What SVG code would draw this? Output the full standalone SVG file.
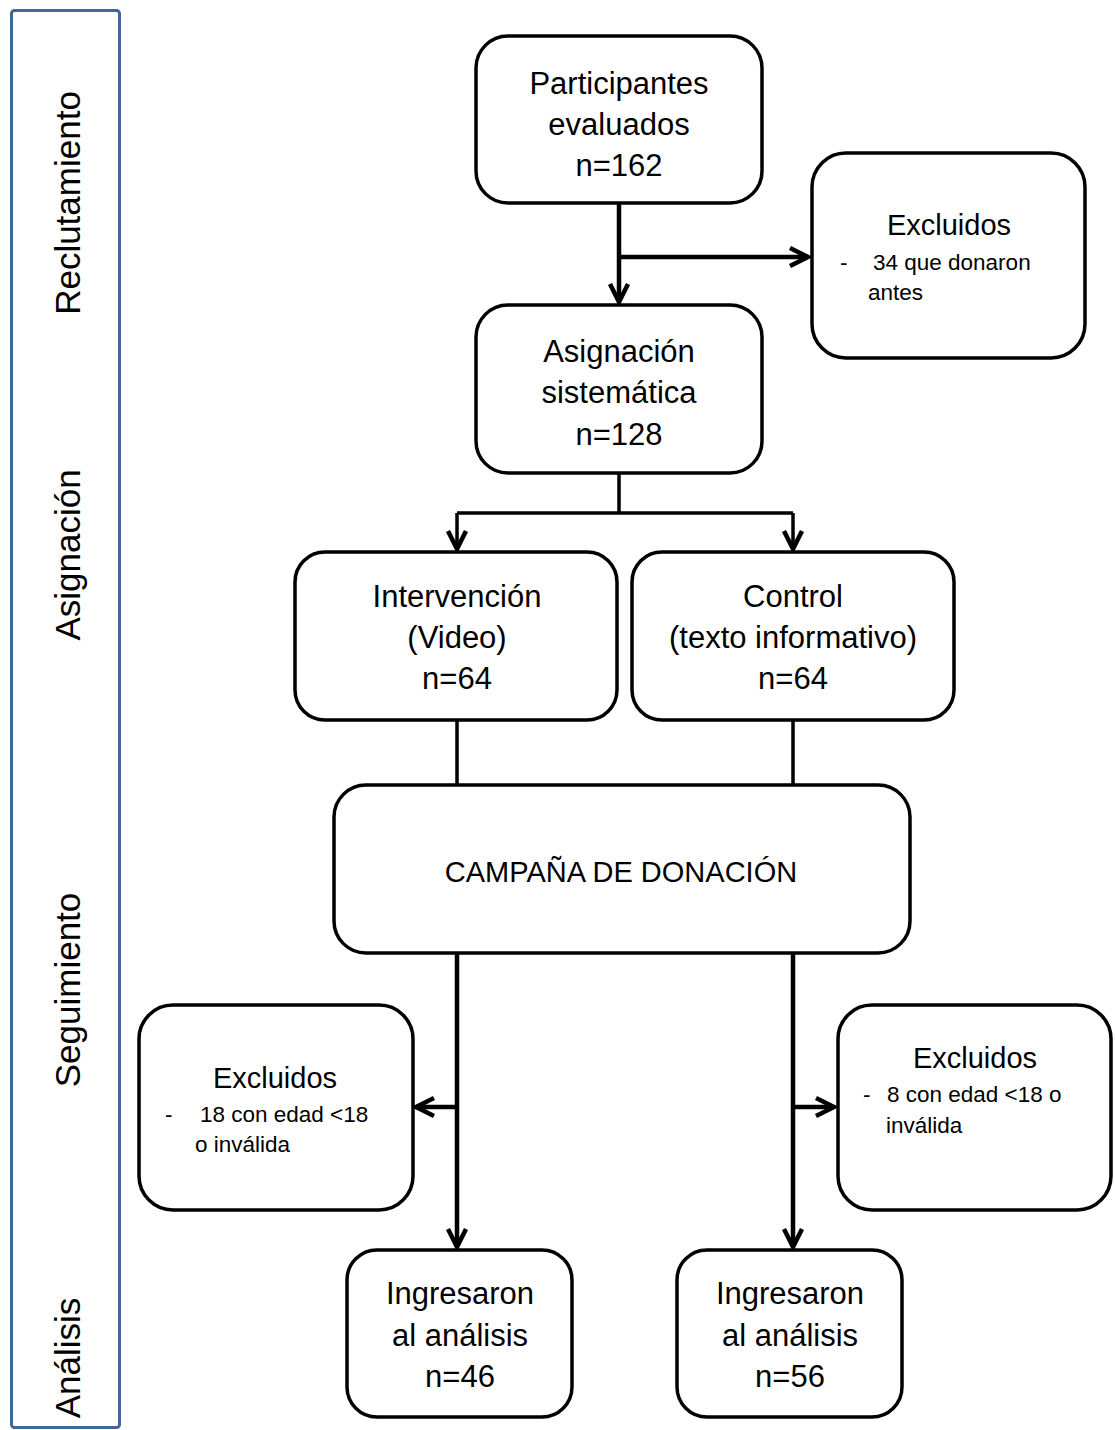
<svg xmlns="http://www.w3.org/2000/svg" width="1115" height="1430" viewBox="0 0 1115 1430">
<style>
.box{fill:#fff;stroke:#000;stroke-width:3.5}
.t{font-family:"Liberation Sans",Arial,sans-serif;font-size:31px;fill:#000;text-anchor:middle}
.h{font-family:"Liberation Sans",Arial,sans-serif;font-size:29px;fill:#000;text-anchor:middle}
.s{font-family:"Liberation Sans",Arial,sans-serif;font-size:22.5px;fill:#000}
.v{font-family:"Liberation Sans",Arial,sans-serif;font-size:35px;fill:#000;text-anchor:middle}
.c{fill:none;stroke:#000;stroke-width:4.5}
.c2{fill:none;stroke:#000;stroke-width:3.5}
</style>
<defs>
<marker id="arr" markerUnits="userSpaceOnUse" viewBox="-22 -12 26 24" refX="0" refY="0" markerWidth="26" markerHeight="24" orient="auto">
<path d="M-18,-9 L0,0 L-18,9" fill="none" stroke="#000" stroke-width="4.5" stroke-linejoin="miter"/>
</marker>
</defs>
<g id="lanes">
<rect x="11.5" y="10.5" width="108" height="1417" rx="3" fill="#fff" stroke="#41679B" stroke-width="3"/>
<text class="v" transform="translate(80,203) rotate(-90)">Reclutamiento</text>
<text class="v" transform="translate(80,555) rotate(-90)">Asignación</text>
<text class="v" transform="translate(80,990) rotate(-90)">Seguimiento</text>
<text class="v" transform="translate(80,1358) rotate(-90)">Análisis</text>
</g>
<g id="connectors">
<path class="c" d="M619,203 V302" marker-end="url(#arr)"/>
<path class="c" d="M619,257 H808" marker-end="url(#arr)"/>
<path class="c2" d="M619,473 V513 M457,513 H793"/>
<path class="c2" d="M457,513 V549" marker-end="url(#arr)"/>
<path class="c2" d="M793,513 V549" marker-end="url(#arr)"/>
<path class="c2" d="M457,720 V785 M793,720 V785"/>
<path class="c" d="M457,953 V1247" marker-end="url(#arr)"/>
<path class="c" d="M457,1107 H416" marker-end="url(#arr)"/>
<path class="c" d="M793,953 V1247" marker-end="url(#arr)"/>
<path class="c" d="M793,1107 H834" marker-end="url(#arr)"/>
</g>
<g id="n-participantes">
<rect class="box" x="476" y="36" width="286" height="167" rx="32"/>
<text class="t" x="619" y="94">Participantes</text>
<text class="t" x="619" y="135">evaluados</text>
<text class="t" x="619" y="176">n=162</text>
</g>
<g id="n-excluidos1">
<rect class="box" x="812" y="153" width="273" height="205" rx="34"/>
<text class="h" x="949" y="235">Excluidos</text>
<text class="s" x="840" y="270">-</text>
<text class="s" x="873" y="270">34 que donaron</text>
<text class="s" x="868" y="300">antes</text>
</g>
<g id="n-asignacion">
<rect class="box" x="476" y="305" width="286" height="168" rx="32"/>
<text class="t" x="619" y="362">Asignación</text>
<text class="t" x="619" y="403">sistemática</text>
<text class="t" x="619" y="445">n=128</text>
</g>
<g id="n-intervencion">
<rect class="box" x="295" y="552" width="322" height="168" rx="30"/>
<text class="t" x="457" y="607">Intervención</text>
<text class="t" x="457" y="648">(Video)</text>
<text class="t" x="457" y="689">n=64</text>
</g>
<g id="n-control">
<rect class="box" x="632" y="552" width="322" height="168" rx="30"/>
<text class="t" x="793" y="607">Control</text>
<text class="t" x="793" y="648">(texto informativo)</text>
<text class="t" x="793" y="689">n=64</text>
</g>
<g id="n-campana">
<rect class="box" x="334" y="785" width="576" height="168" rx="32"/>
<text class="t" x="621" y="882" style="font-size:29px">CAMPAÑA DE DONACIÓN</text>
</g>
<g id="n-excluidos2">
<rect class="box" x="139" y="1005" width="274" height="205" rx="34"/>
<text class="h" x="275" y="1088">Excluidos</text>
<text class="s" x="165" y="1122">-</text>
<text class="s" x="200" y="1122">18 con edad &lt;18</text>
<text class="s" x="195" y="1152">o inválida</text>
</g>
<g id="n-excluidos3">
<rect class="box" x="838" y="1005" width="273" height="205" rx="34"/>
<text class="h" x="975" y="1068">Excluidos</text>
<text class="s" x="863" y="1102">-</text>
<text class="s" x="887" y="1102">8 con edad &lt;18 o</text>
<text class="s" x="886" y="1133">inválida</text>
</g>
<g id="n-ingresaron1">
<rect class="box" x="347" y="1250" width="225" height="167" rx="30"/>
<text class="t" x="460" y="1304">Ingresaron</text>
<text class="t" x="460" y="1346">al análisis</text>
<text class="t" x="460" y="1387">n=46</text>
</g>
<g id="n-ingresaron2">
<rect class="box" x="677" y="1250" width="225" height="167" rx="30"/>
<text class="t" x="790" y="1304">Ingresaron</text>
<text class="t" x="790" y="1346">al análisis</text>
<text class="t" x="790" y="1387">n=56</text>
</g>
</svg>
